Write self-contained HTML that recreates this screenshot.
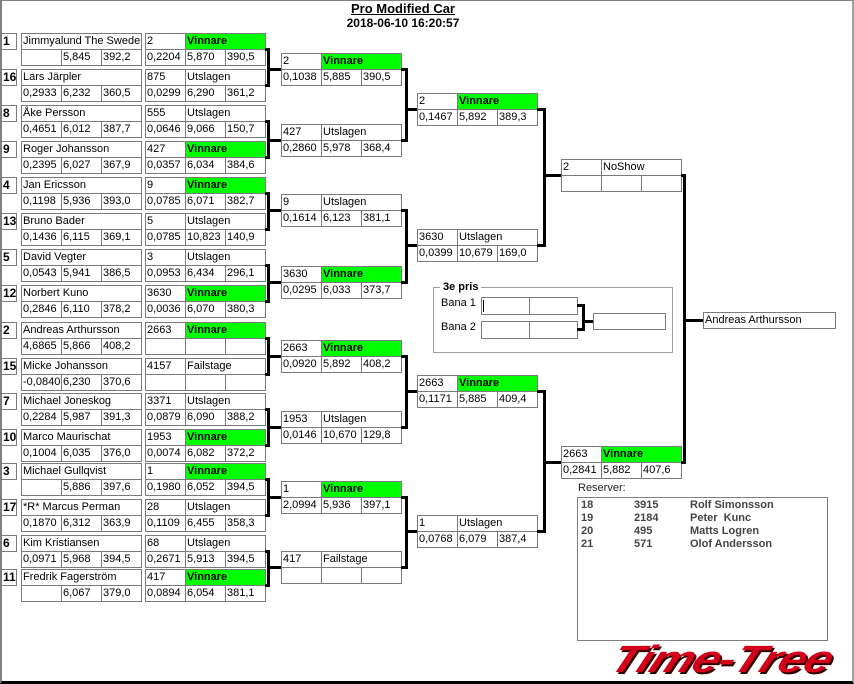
<!DOCTYPE html>
<html><head><meta charset="utf-8">
<style>
body{margin:0;width:854px;height:684px;position:relative;background:#fff;overflow:hidden;font-family:"Liberation Sans",sans-serif;font-size:11px;color:#000}
div{position:absolute;box-sizing:border-box}
.c{height:17px;border:1px solid #7a7a7a;background:#fff;line-height:15px;padding-left:1px;white-space:nowrap;overflow:hidden}
.w40{width:41px}.w80{width:81px}.w120{width:121px}
.g{background:#00ff00;font-weight:bold}
.s{width:16px;height:17px;border:1px solid #7a7a7a;font-weight:bold;font-size:12px;line-height:15px;padding-left:1px}
.b{border:3px solid #000;border-left:none}
.h{height:3px;background:#000}
</style></head><body>
<div style="left:0;top:0;width:854px;height:684px;border-left:2px solid #808080;border-top:1px solid #808080;border-right:2px solid #a0a0a0;border-bottom:3px solid #000"></div>
<div style="left:300px;top:1px;width:206px;text-align:center;font-weight:bold;font-size:13px;text-decoration:underline;line-height:16px">Pro Modified Car</div>
<div style="left:300px;top:15px;width:206px;text-align:center;font-weight:bold;font-size:12px;line-height:16px">2018-06-10 16:20:57</div>

<!-- Round 1 players -->
<div class="s" style="left:1px;top:33px">1</div><div class="c w120" style="left:21px;top:33px">Jimmyalund The Swede</div><div class="c w40" style="left:21px;top:49px"></div><div class="c w40" style="left:61px;top:49px">5,845</div><div class="c w40" style="left:101px;top:49px">392,2</div>
<div class="s" style="left:1px;top:69px">16</div><div class="c w120" style="left:21px;top:69px">Lars Järpler</div><div class="c w40" style="left:21px;top:85px">0,2933</div><div class="c w40" style="left:61px;top:85px">6,232</div><div class="c w40" style="left:101px;top:85px">360,5</div>
<div class="s" style="left:1px;top:105px">8</div><div class="c w120" style="left:21px;top:105px">Åke Persson</div><div class="c w40" style="left:21px;top:121px">0,4651</div><div class="c w40" style="left:61px;top:121px">6,012</div><div class="c w40" style="left:101px;top:121px">387,7</div>
<div class="s" style="left:1px;top:141px">9</div><div class="c w120" style="left:21px;top:141px">Roger Johansson</div><div class="c w40" style="left:21px;top:157px">0,2395</div><div class="c w40" style="left:61px;top:157px">6,027</div><div class="c w40" style="left:101px;top:157px">367,9</div>
<div class="s" style="left:1px;top:177px">4</div><div class="c w120" style="left:21px;top:177px">Jan Ericsson</div><div class="c w40" style="left:21px;top:193px">0,1198</div><div class="c w40" style="left:61px;top:193px">5,936</div><div class="c w40" style="left:101px;top:193px">393,0</div>
<div class="s" style="left:1px;top:213px">13</div><div class="c w120" style="left:21px;top:213px">Bruno Bader</div><div class="c w40" style="left:21px;top:229px">0,1436</div><div class="c w40" style="left:61px;top:229px">6,115</div><div class="c w40" style="left:101px;top:229px">369,1</div>
<div class="s" style="left:1px;top:249px">5</div><div class="c w120" style="left:21px;top:249px">David Vegter</div><div class="c w40" style="left:21px;top:265px">0,0543</div><div class="c w40" style="left:61px;top:265px">5,941</div><div class="c w40" style="left:101px;top:265px">386,5</div>
<div class="s" style="left:1px;top:285px">12</div><div class="c w120" style="left:21px;top:285px">Norbert Kuno</div><div class="c w40" style="left:21px;top:301px">0,2846</div><div class="c w40" style="left:61px;top:301px">6,110</div><div class="c w40" style="left:101px;top:301px">378,2</div>
<div class="s" style="left:1px;top:322px">2</div><div class="c w120" style="left:21px;top:322px">Andreas Arthursson</div><div class="c w40" style="left:21px;top:338px">4,6865</div><div class="c w40" style="left:61px;top:338px">5,866</div><div class="c w40" style="left:101px;top:338px">408,2</div>
<div class="s" style="left:1px;top:358px">15</div><div class="c w120" style="left:21px;top:358px">Micke Johansson</div><div class="c w40" style="left:21px;top:374px">-0,0840</div><div class="c w40" style="left:61px;top:374px">6,230</div><div class="c w40" style="left:101px;top:374px">370,6</div>
<div class="s" style="left:1px;top:393px">7</div><div class="c w120" style="left:21px;top:393px">Michael Joneskog</div><div class="c w40" style="left:21px;top:409px">0,2284</div><div class="c w40" style="left:61px;top:409px">5,987</div><div class="c w40" style="left:101px;top:409px">391,3</div>
<div class="s" style="left:1px;top:429px">10</div><div class="c w120" style="left:21px;top:429px">Marco Maurischat</div><div class="c w40" style="left:21px;top:445px">0,1004</div><div class="c w40" style="left:61px;top:445px">6,035</div><div class="c w40" style="left:101px;top:445px">376,0</div>
<div class="s" style="left:1px;top:463px">3</div><div class="c w120" style="left:21px;top:463px">Michael Gullqvist</div><div class="c w40" style="left:21px;top:479px"></div><div class="c w40" style="left:61px;top:479px">5,886</div><div class="c w40" style="left:101px;top:479px">397,6</div>
<div class="s" style="left:1px;top:499px">17</div><div class="c w120" style="left:21px;top:499px">*R* Marcus Perman</div><div class="c w40" style="left:21px;top:515px">0,1870</div><div class="c w40" style="left:61px;top:515px">6,312</div><div class="c w40" style="left:101px;top:515px">363,9</div>
<div class="s" style="left:1px;top:535px">6</div><div class="c w120" style="left:21px;top:535px">Kim Kristiansen</div><div class="c w40" style="left:21px;top:551px">0,0971</div><div class="c w40" style="left:61px;top:551px">5,968</div><div class="c w40" style="left:101px;top:551px">394,5</div>
<div class="s" style="left:1px;top:569px">11</div><div class="c w120" style="left:21px;top:569px">Fredrik Fagerström</div><div class="c w40" style="left:21px;top:585px"></div><div class="c w40" style="left:61px;top:585px">6,067</div><div class="c w40" style="left:101px;top:585px">379,0</div>

<!-- Round 1 results -->
<div class="c w40" style="left:145px;top:33px">2</div><div class="c w80 g" style="left:185px;top:33px">Vinnare</div><div class="c w40" style="left:145px;top:49px">0,2204</div><div class="c w40" style="left:185px;top:49px">5,870</div><div class="c w40" style="left:225px;top:49px">390,5</div>
<div class="c w40" style="left:145px;top:69px">875</div><div class="c w80" style="left:185px;top:69px">Utslagen</div><div class="c w40" style="left:145px;top:85px">0,0299</div><div class="c w40" style="left:185px;top:85px">6,290</div><div class="c w40" style="left:225px;top:85px">361,2</div>
<div class="c w40" style="left:145px;top:105px">555</div><div class="c w80" style="left:185px;top:105px">Utslagen</div><div class="c w40" style="left:145px;top:121px">0,0646</div><div class="c w40" style="left:185px;top:121px">9,066</div><div class="c w40" style="left:225px;top:121px">150,7</div>
<div class="c w40" style="left:145px;top:141px">427</div><div class="c w80 g" style="left:185px;top:141px">Vinnare</div><div class="c w40" style="left:145px;top:157px">0,0357</div><div class="c w40" style="left:185px;top:157px">6,034</div><div class="c w40" style="left:225px;top:157px">384,6</div>
<div class="c w40" style="left:145px;top:177px">9</div><div class="c w80 g" style="left:185px;top:177px">Vinnare</div><div class="c w40" style="left:145px;top:193px">0,0785</div><div class="c w40" style="left:185px;top:193px">6,071</div><div class="c w40" style="left:225px;top:193px">382,7</div>
<div class="c w40" style="left:145px;top:213px">5</div><div class="c w80" style="left:185px;top:213px">Utslagen</div><div class="c w40" style="left:145px;top:229px">0,0785</div><div class="c w40" style="left:185px;top:229px">10,823</div><div class="c w40" style="left:225px;top:229px">140,9</div>
<div class="c w40" style="left:145px;top:249px">3</div><div class="c w80" style="left:185px;top:249px">Utslagen</div><div class="c w40" style="left:145px;top:265px">0,0953</div><div class="c w40" style="left:185px;top:265px">6,434</div><div class="c w40" style="left:225px;top:265px">296,1</div>
<div class="c w40" style="left:145px;top:285px">3630</div><div class="c w80 g" style="left:185px;top:285px">Vinnare</div><div class="c w40" style="left:145px;top:301px">0,0036</div><div class="c w40" style="left:185px;top:301px">6,070</div><div class="c w40" style="left:225px;top:301px">380,3</div>
<div class="c w40" style="left:145px;top:322px">2663</div><div class="c w80 g" style="left:185px;top:322px">Vinnare</div><div class="c w40" style="left:145px;top:338px"></div><div class="c w40" style="left:185px;top:338px"></div><div class="c w40" style="left:225px;top:338px"></div>
<div class="c w40" style="left:145px;top:358px">4157</div><div class="c w80" style="left:185px;top:358px">Failstage</div><div class="c w40" style="left:145px;top:374px"></div><div class="c w40" style="left:185px;top:374px"></div><div class="c w40" style="left:225px;top:374px"></div>
<div class="c w40" style="left:145px;top:393px">3371</div><div class="c w80" style="left:185px;top:393px">Utslagen</div><div class="c w40" style="left:145px;top:409px">0,0879</div><div class="c w40" style="left:185px;top:409px">6,090</div><div class="c w40" style="left:225px;top:409px">388,2</div>
<div class="c w40" style="left:145px;top:429px">1953</div><div class="c w80 g" style="left:185px;top:429px">Vinnare</div><div class="c w40" style="left:145px;top:445px">0,0074</div><div class="c w40" style="left:185px;top:445px">6,082</div><div class="c w40" style="left:225px;top:445px">372,2</div>
<div class="c w40" style="left:145px;top:463px">1</div><div class="c w80 g" style="left:185px;top:463px">Vinnare</div><div class="c w40" style="left:145px;top:479px">0,1980</div><div class="c w40" style="left:185px;top:479px">6,052</div><div class="c w40" style="left:225px;top:479px">394,5</div>
<div class="c w40" style="left:145px;top:499px">28</div><div class="c w80" style="left:185px;top:499px">Utslagen</div><div class="c w40" style="left:145px;top:515px">0,1109</div><div class="c w40" style="left:185px;top:515px">6,455</div><div class="c w40" style="left:225px;top:515px">358,3</div>
<div class="c w40" style="left:145px;top:535px">68</div><div class="c w80" style="left:185px;top:535px">Utslagen</div><div class="c w40" style="left:145px;top:551px">0,2671</div><div class="c w40" style="left:185px;top:551px">5,913</div><div class="c w40" style="left:225px;top:551px">394,5</div>
<div class="c w40" style="left:145px;top:569px">417</div><div class="c w80 g" style="left:185px;top:569px">Vinnare</div><div class="c w40" style="left:145px;top:585px">0,0894</div><div class="c w40" style="left:185px;top:585px">6,054</div><div class="c w40" style="left:225px;top:585px">381,1</div>

<!-- Round 2 -->
<div class="c w40" style="left:281px;top:53px">2</div><div class="c w80 g" style="left:321px;top:53px">Vinnare</div><div class="c w40" style="left:281px;top:69px">0,1038</div><div class="c w40" style="left:321px;top:69px">5,885</div><div class="c w40" style="left:361px;top:69px">390,5</div>
<div class="c w40" style="left:281px;top:124px">427</div><div class="c w80" style="left:321px;top:124px">Utslagen</div><div class="c w40" style="left:281px;top:140px">0,2860</div><div class="c w40" style="left:321px;top:140px">5,978</div><div class="c w40" style="left:361px;top:140px">368,4</div>
<div class="c w40" style="left:281px;top:194px">9</div><div class="c w80" style="left:321px;top:194px">Utslagen</div><div class="c w40" style="left:281px;top:210px">0,1614</div><div class="c w40" style="left:321px;top:210px">6,123</div><div class="c w40" style="left:361px;top:210px">381,1</div>
<div class="c w40" style="left:281px;top:266px">3630</div><div class="c w80 g" style="left:321px;top:266px">Vinnare</div><div class="c w40" style="left:281px;top:282px">0,0295</div><div class="c w40" style="left:321px;top:282px">6,033</div><div class="c w40" style="left:361px;top:282px">373,7</div>
<div class="c w40" style="left:281px;top:340px">2663</div><div class="c w80 g" style="left:321px;top:340px">Vinnare</div><div class="c w40" style="left:281px;top:356px">0,0920</div><div class="c w40" style="left:321px;top:356px">5,892</div><div class="c w40" style="left:361px;top:356px">408,2</div>
<div class="c w40" style="left:281px;top:411px">1953</div><div class="c w80" style="left:321px;top:411px">Utslagen</div><div class="c w40" style="left:281px;top:427px">0,0146</div><div class="c w40" style="left:321px;top:427px">10,670</div><div class="c w40" style="left:361px;top:427px">129,8</div>
<div class="c w40" style="left:281px;top:481px">1</div><div class="c w80 g" style="left:321px;top:481px">Vinnare</div><div class="c w40" style="left:281px;top:497px">2,0994</div><div class="c w40" style="left:321px;top:497px">5,936</div><div class="c w40" style="left:361px;top:497px">397,1</div>
<div class="c w40" style="left:281px;top:551px">417</div><div class="c w80" style="left:321px;top:551px">Failstage</div><div class="c w40" style="left:281px;top:567px"></div><div class="c w40" style="left:321px;top:567px"></div><div class="c w40" style="left:361px;top:567px"></div>

<!-- Round 3 -->
<div class="c w40" style="left:417px;top:93px">2</div><div class="c w80 g" style="left:457px;top:93px">Vinnare</div><div class="c w40" style="left:417px;top:109px">0,1467</div><div class="c w40" style="left:457px;top:109px">5,892</div><div class="c w40" style="left:497px;top:109px">389,3</div>
<div class="c w40" style="left:417px;top:229px">3630</div><div class="c w80" style="left:457px;top:229px">Utslagen</div><div class="c w40" style="left:417px;top:245px">0,0399</div><div class="c w40" style="left:457px;top:245px">10,679</div><div class="c w40" style="left:497px;top:245px">169,0</div>
<div class="c w40" style="left:417px;top:375px">2663</div><div class="c w80 g" style="left:457px;top:375px">Vinnare</div><div class="c w40" style="left:417px;top:391px">0,1171</div><div class="c w40" style="left:457px;top:391px">5,885</div><div class="c w40" style="left:497px;top:391px">409,4</div>
<div class="c w40" style="left:417px;top:515px">1</div><div class="c w80" style="left:457px;top:515px">Utslagen</div><div class="c w40" style="left:417px;top:531px">0,0768</div><div class="c w40" style="left:457px;top:531px">6,079</div><div class="c w40" style="left:497px;top:531px">387,4</div>

<!-- Round 4 -->
<div class="c w40" style="left:561px;top:159px">2</div><div class="c w80" style="left:601px;top:159px">NoShow</div><div class="c w40" style="left:561px;top:175px"></div><div class="c w40" style="left:601px;top:175px"></div><div class="c w40" style="left:641px;top:175px"></div>
<div class="c w40" style="left:561px;top:446px">2663</div><div class="c w80 g" style="left:601px;top:446px">Vinnare</div><div class="c w40" style="left:561px;top:462px">0,2841</div><div class="c w40" style="left:601px;top:462px">5,882</div><div class="c w40" style="left:641px;top:462px">407,6</div>

<div class="c" style="left:703px;top:312px;width:133px">Andreas Arthursson</div>

<!-- Connectors round1 -->
<div class="b" style="left:265px;top:48px;width:5px;height:39px"></div><div class="h" style="left:267px;top:68px;width:14px"></div>
<div class="b" style="left:265px;top:120px;width:5px;height:39px"></div><div class="h" style="left:267px;top:139px;width:14px"></div>
<div class="b" style="left:265px;top:192px;width:5px;height:39px"></div><div class="h" style="left:267px;top:209px;width:14px"></div>
<div class="b" style="left:265px;top:264px;width:5px;height:39px"></div><div class="h" style="left:267px;top:281px;width:14px"></div>
<div class="b" style="left:265px;top:337px;width:5px;height:39px"></div><div class="h" style="left:267px;top:355px;width:14px"></div>
<div class="b" style="left:265px;top:408px;width:5px;height:39px"></div><div class="h" style="left:267px;top:426px;width:14px"></div>
<div class="b" style="left:265px;top:478px;width:5px;height:39px"></div><div class="h" style="left:267px;top:496px;width:14px"></div>
<div class="b" style="left:265px;top:550px;width:5px;height:37px"></div><div class="h" style="left:267px;top:566px;width:14px"></div>
<!-- round2 -->
<div class="b" style="left:401px;top:68px;width:7px;height:74px"></div><div class="h" style="left:405px;top:108px;width:12px"></div>
<div class="b" style="left:401px;top:209px;width:7px;height:75px"></div><div class="h" style="left:405px;top:244px;width:12px"></div>
<div class="b" style="left:401px;top:355px;width:7px;height:74px"></div><div class="h" style="left:405px;top:390px;width:12px"></div>
<div class="b" style="left:401px;top:496px;width:7px;height:73px"></div><div class="h" style="left:405px;top:530px;width:12px"></div>
<!-- round3 -->
<div class="b" style="left:537px;top:108px;width:9px;height:139px"></div><div class="h" style="left:543px;top:174px;width:18px"></div>
<div class="b" style="left:537px;top:390px;width:9px;height:143px"></div><div class="h" style="left:543px;top:461px;width:18px"></div>
<!-- round4 -->
<div class="b" style="left:681px;top:174px;width:5px;height:290px"></div><div class="h" style="left:683px;top:319px;width:20px"></div>

<!-- 3e pris -->
<div style="left:433px;top:287px;width:240px;height:66px;border:1px solid #a0a0a0"></div>
<div style="left:440px;top:280px;background:#fff;padding:0 3px;font-weight:bold;line-height:14px">3e pris</div>
<div style="left:441px;top:296px;line-height:14px">Bana 1</div>
<div style="left:441px;top:320px;line-height:14px">Bana 2</div>
<div class="c" style="left:481px;top:297px;width:49px;height:18px"></div><div class="c" style="left:529px;top:297px;width:49px;height:18px"></div>
<div style="left:483px;top:300px;width:1px;height:12px;background:#000"></div>
<div class="c" style="left:481px;top:321px;width:49px;height:18px"></div><div class="c" style="left:529px;top:321px;width:49px;height:18px"></div>
<div class="c" style="left:593px;top:313px;width:73px"></div>
<div class="b" style="left:577px;top:304px;width:8px;height:27px"></div><div class="h" style="left:582px;top:320px;width:11px"></div>

<!-- Reserver -->
<div style="left:578px;top:481px;line-height:14px;color:#222">Reserver:</div>
<div style="left:577px;top:497px;width:251px;height:144px;border:1px solid #808080"></div>
<div style="left:581px;top:499px;font-weight:bold;color:#444;line-height:13px">18<br>19<br>20<br>21</div>
<div style="left:634px;top:499px;font-weight:bold;color:#444;line-height:13px">3915<br>2184<br>495<br>571</div>
<div style="left:690px;top:499px;font-weight:bold;color:#444;line-height:13px;white-space:pre">Rolf Simonsson
Peter  Kunc
Matts Logren
Olof Andersson</div>

<!-- Logo -->
<div style="left:612px;top:638px;width:240px;height:44px;overflow:visible">
<div style="left:0;top:0;font-weight:bold;font-style:italic;font-size:38px;line-height:44px;color:#d4001a;letter-spacing:-1px;text-shadow:2px 2px 0 #300;transform:scaleX(1.28) skewX(-18deg);transform-origin:0 50%;white-space:nowrap">Time-Tree</div>
</div>
</body></html>
